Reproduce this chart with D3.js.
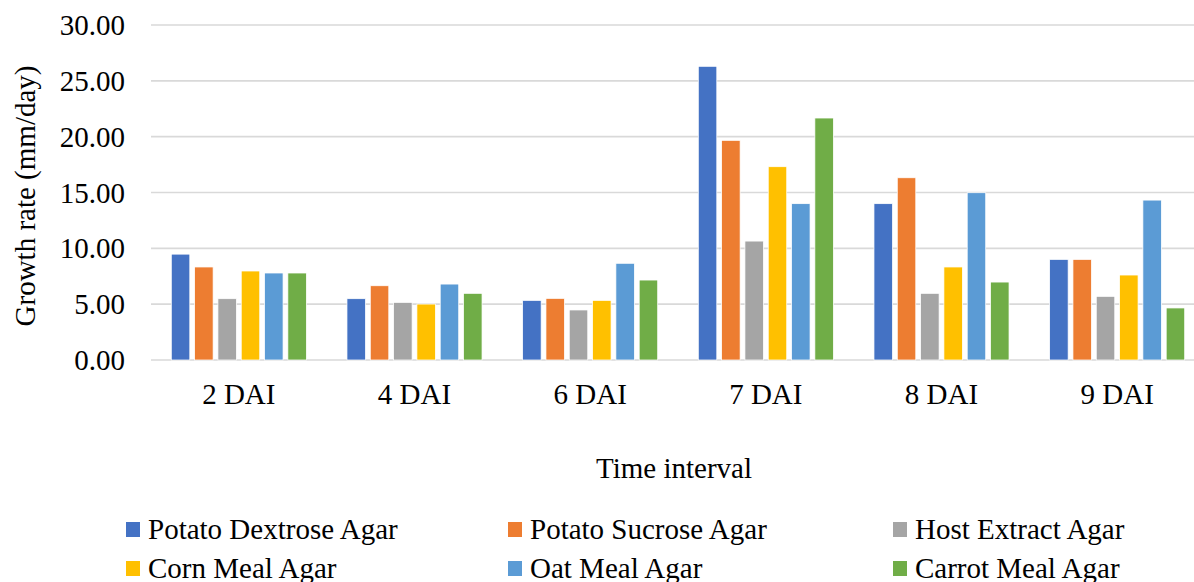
<!DOCTYPE html>
<html>
<head>
<meta charset="utf-8">
<script src="https://cdn.jsdelivr.net/npm/d3@7"></script>
</head>
<body style="margin:0; background:#fff">
<div id="chart"></div>
<script>
var categories = ["2 DAI", "4 DAI", "6 DAI", "7 DAI", "8 DAI", "9 DAI"];
var seriesNames = ["Potato Dextrose Agar", "Potato Sucrose Agar", "Host Extract Agar",
                   "Corn Meal Agar", "Oat Meal Agar", "Carrot Meal Agar"];
var seriesColors = ["#4472C4", "#ED7D31", "#A5A5A5", "#FFC000", "#5B9BD5", "#70AD47"];

// values per series, one per time interval
var potatoDextrose = [9.48, 5.49, 5.34, 26.30, 14.00, 9.01];
var potatoSucrose  = [8.33, 6.65, 5.52, 19.67, 16.32, 9.01];
var hostExtract    = [5.49, 5.16, 4.48, 10.65, 5.97, 5.70];
var cornMeal       = [7.97, 5.01, 5.34, 17.31, 8.33, 7.61];
var oatMeal        = [7.79, 6.80, 8.66, 14.00, 14.98, 14.32];
var carrotMeal     = [7.79, 5.97, 7.16, 21.67, 6.98, 4.66];

var yTicks = [0, 5, 10, 15, 20, 25, 30];

var allSeries = [potatoDextrose, potatoSucrose, hostExtract, cornMeal, oatMeal, carrotMeal];

var width = 1194, height = 582;
var font = "Liberation Serif";

var svg = d3.select("#chart").append("svg")
    .attr("width", width)
    .attr("height", height)
    .style("display", "block");

var y = d3.scaleLinear().domain([0, 30]).range([360, 25]);

var x0 = d3.scaleBand()
    .domain(categories)
    .range([151, 1205])
    .padding(0);

var x1 = d3.scaleBand()
    .domain(seriesNames)
    .range([20.3, x0.bandwidth() - 20.3])
    .paddingInner(0.206);

// gridlines
svg.append("g")
    .selectAll("line")
    .data(yTicks)
    .enter()
        .append("line")
        .attr("x1", 151)
        .attr("x2", width)
        .attr("y1", function(d){ return y(d); })
        .attr("y2", function(d){ return y(d); })
        .attr("stroke", "#d9d9d9")
        .attr("stroke-width", 1.6);

// y tick labels
svg.append("g")
    .selectAll("text")
    .data(yTicks)
    .enter()
        .append("text")
        .attr("x", 125)
        .attr("y", function(d){ return y(d) + 10; })
        .attr("text-anchor", "end")
        .attr("font-family", font)
        .attr("font-size", 29)
        .attr("fill", "#000")
        .text(function(d){ return d3.format(".2f")(d); });

// bars
var groups = svg.append("g")
    .selectAll("g")
    .data(categories)
    .enter()
        .append("g")
        .attr("transform", function(d){ return "translate(" + x0(d) + ",0)"; });

groups.selectAll("rect")
    .data(function(c, i){
        return seriesNames.map(function(s, j){
            return { name: s, value: allSeries[j][i], color: seriesColors[j] };
        });
    })
    .enter()
        .append("rect")
        .attr("x", function(d){ return x1(d.name); })
        .attr("width", x1.bandwidth())
        .attr("y", function(d){ return y(d.value); })
        .attr("height", function(d){ return y(0) - y(d.value); })
        .attr("fill", function(d){ return d.color; })
        .attr("stroke", "#fff")
        .attr("stroke-width", 0.75);

// category labels
svg.append("g")
    .selectAll("text")
    .data(categories)
    .enter()
        .append("text")
        .attr("x", function(d){ return x0(d) + x0.bandwidth() / 2; })
        .attr("y", 404)
        .attr("text-anchor", "middle")
        .attr("font-family", font)
        .attr("font-size", 29)
        .text(function(d){ return d; });

// axis titles
svg.append("text")
    .attr("transform", "translate(35,196) rotate(-90)")
    .attr("text-anchor", "middle")
    .attr("font-family", font)
    .attr("font-size", 29)
    .text("Growth rate (mm/day)");

svg.append("text")
    .attr("x", 674)
    .attr("y", 478)
    .attr("text-anchor", "middle")
    .attr("font-family", font)
    .attr("font-size", 29)
    .text("Time interval");

// legend, 3 columns x 2 rows
var legendCols = [126, 508, 893];
var legend = svg.append("g")
    .selectAll("g")
    .data(seriesNames)
    .enter()
        .append("g")
        .attr("transform", function(d, i){
            return "translate(" + legendCols[i % 3] + "," + (529.5 + Math.floor(i / 3) * 39) + ")";
        });

legend.append("rect")
    .attr("x", 0)
    .attr("y", -7.5)
    .attr("width", 14)
    .attr("height", 15)
    .attr("fill", function(d, i){ return seriesColors[i]; });

legend.append("text")
    .attr("x", 22)
    .attr("y", 9)
    .attr("font-family", font)
    .attr("font-size", 29)
    .text(function(d){ return d; });
</script>
</body>
</html>
